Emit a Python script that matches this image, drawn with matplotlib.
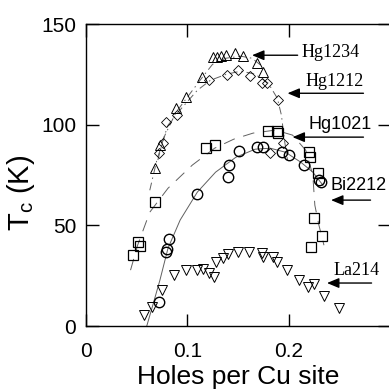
import matplotlib
matplotlib.use('Agg')
import matplotlib.pyplot as plt
import numpy as np

plt.rcParams['font.family'] = ['Liberation Sans', 'DejaVu Sans']
plt.rcParams['mathtext.fontset'] = 'custom'
plt.rcParams['mathtext.rm'] = 'Liberation Sans'
plt.rcParams['mathtext.it'] = 'Liberation Sans'

# Data (holes per Cu site, Tc in K)
hg1234_x = [0.068, 0.073, 0.089, 0.099, 0.115, 0.125, 0.129, 0.133, 0.138, 0.147, 0.155, 0.169, 0.175]
hg1234_y = [78.5, 89.9, 108.3, 113.7, 123.7, 133.6, 133.6, 134.1, 134.6, 135.6, 134.1, 130.6, 126.2]
hg1234_fit_x = [0.063, 0.070, 0.078, 0.089, 0.103, 0.115, 0.125, 0.138, 0.153, 0.164, 0.174]
hg1234_fit_y = [67.5, 82.5, 94.9, 106.3, 115.7, 123.7, 130.1, 133.1, 134.1, 133.1, 129.1]

hg1212_x = [0.072, 0.076, 0.079, 0.090, 0.121, 0.139, 0.150, 0.162, 0.174, 0.179, 0.190, 0.195, 0.182]
hg1212_y = [85.9, 90.9, 101.3, 104.8, 122.2, 124.7, 127.2, 124.2, 120.7, 120.7, 112.3, 90.9, 85.9]
hg1212_fit_x = [0.071, 0.076, 0.081, 0.091, 0.110, 0.123, 0.139, 0.153, 0.167, 0.180, 0.189, 0.193, 0.196, 0.199]
hg1212_fit_y = [82.5, 92.4, 99.8, 106.3, 117.2, 122.2, 125.2, 126.7, 125.2, 120.7, 113.2, 104.8, 92.4, 82.5]

hg1021_x = [0.046, 0.051, 0.053, 0.068, 0.119, 0.127, 0.180, 0.189, 0.190, 0.220, 0.221, 0.229, 0.225, 0.233, 0.222]
hg1021_y = [35.3, 41.7, 39.7, 61.6, 88.4, 89.9, 96.9, 96.9, 95.9, 86.4, 83.9, 76.0, 53.6, 44.7, 39.2]
hg1021_fit_x = [0.044, 0.051, 0.063, 0.081, 0.105, 0.127, 0.146, 0.165, 0.187, 0.204, 0.217, 0.224, 0.226, 0.230, 0.235]
hg1021_fit_y = [27.8, 40.2, 56.6, 68.5, 80.0, 88.4, 92.9, 95.9, 97.4, 94.9, 87.4, 75.0, 60.1, 50.2, 40.2]

bi2212_x = [0.072, 0.079, 0.080, 0.082, 0.110, 0.140, 0.141, 0.151, 0.169, 0.175, 0.194, 0.200, 0.215, 0.230, 0.232]
bi2212_y = [11.9, 36.8, 38.2, 43.2, 65.6, 74.0, 80.0, 86.9, 88.9, 88.9, 86.4, 84.9, 80.0, 72.5, 71.5]
bi2212_fit_x = [0.060, 0.066, 0.073, 0.081, 0.093, 0.110, 0.128, 0.148, 0.167, 0.182, 0.197, 0.212, 0.224, 0.234]
bi2212_fit_y = [0.0, 10.4, 22.8, 38.7, 52.7, 66.6, 76.5, 83.9, 87.9, 88.4, 86.4, 81.5, 76.5, 70.0]

la214_x = [0.057, 0.065, 0.075, 0.087, 0.099, 0.110, 0.116, 0.121, 0.126, 0.128, 0.135, 0.140,
           0.150, 0.161, 0.174, 0.175, 0.185, 0.189, 0.199, 0.210, 0.219, 0.225, 0.235, 0.250]
la214_y = [5.5, 9.4, 17.9, 25.3, 27.8, 27.8, 28.3, 26.3, 24.3, 31.8, 33.8, 35.8,
           36.8, 36.8, 36.3, 34.3, 34.3, 31.8, 27.8, 22.8, 19.4, 20.9, 14.9, 8.9]

fig = plt.figure(figsize=(3.89, 3.91), dpi=100)
ax = fig.add_axes([0.221, 0.166, 0.781, 0.772])

gray = '#606060'
mk = dict(linestyle='none', markerfacecolor='none', markeredgecolor='k')

# fit curves
ax.plot(hg1234_fit_x, hg1234_fit_y, color=gray, lw=0.7, linestyle=(0, (8, 4, 1.5, 4)))
ax.plot(hg1212_fit_x, hg1212_fit_y, color=gray, lw=0.7, linestyle=(0, (8, 4, 1.5, 4)))
ax.plot(hg1021_fit_x, hg1021_fit_y, color=gray, lw=0.7, linestyle=(0, (12, 9)))
ax.plot(bi2212_fit_x, bi2212_fit_y, color=gray, lw=0.7, linestyle='-')

# data points
ax.plot(hg1234_x, hg1234_y, marker='^', markersize=7.5, markeredgewidth=0.7, **mk)
ax.plot(hg1212_x, hg1212_y, marker='D', markersize=5.2, markeredgewidth=0.6, **mk)
ax.plot(hg1021_x, hg1021_y, marker='s', markersize=7.5, markeredgewidth=0.9, **mk)
ax.plot(bi2212_x, bi2212_y, marker='o', markersize=7.5, markeredgewidth=1.0, **mk)
ax.plot(la214_x, la214_y, marker='v', markersize=7.5, markeredgewidth=0.7, **mk)

# labels with arrows
arrow = dict(arrowstyle='-|>,head_length=0.6,head_width=0.25', mutation_scale=12,
             color='k', lw=1.0, shrinkA=0, shrinkB=0)
ax.annotate('', xy=(0.164, 134.6), xytext=(0.209, 134.6), arrowprops=arrow)
ax.annotate('', xy=(0.199, 115.7), xytext=(0.274, 115.7), arrowprops=arrow)
ax.annotate('', xy=(0.204, 93.9), xytext=(0.274, 93.9), arrowprops=arrow)
ax.annotate('', xy=(0.242, 62.6), xytext=(0.281, 62.6), arrowprops=arrow)
ax.annotate('', xy=(0.238, 21.4), xytext=(0.282, 21.4), arrowprops=arrow)

serif = ['Liberation Serif', 'DejaVu Serif']
ax.text(0.213, 133.6, 'Hg1234', family=serif, fontsize=13, va='baseline')
ax.text(0.217, 119.2, 'Hg1212', family=serif, fontsize=13, va='baseline')
ax.text(0.220, 97.9, 'Hg1021', fontsize=13, va='baseline')
ax.text(0.241, 67.6, 'Bi2212', fontsize=13, va='baseline')
ax.text(0.244, 25.3, 'La214', family=serif, fontsize=13, va='baseline')

ax.set_xlim(0, 0.3)
ax.set_ylim(0, 150)
ax.set_xticks([0, 0.1, 0.2])
ax.set_xticklabels(['0', '0.1', '0.2'])
ax.set_yticks([0, 50, 100, 150])
ax.set_yticklabels(['0', '50', '100', '150'])

ax.tick_params(direction='in', length=9, width=1, labelsize=15,
               top=True, right=True)
ax.tick_params(axis='x', pad=11.5)
ax.tick_params(axis='y', pad=7)
for s in ax.spines.values():
    s.set_linewidth(1.0)

ax.set_xlabel('Holes per Cu site', fontsize=19, labelpad=3)
ax.set_ylabel(r'T$_\mathregular{c}$ (K)', fontsize=21)
ax.yaxis.set_label_coords(-0.16, 0.44)

fig.savefig('out.png', dpi=100)
